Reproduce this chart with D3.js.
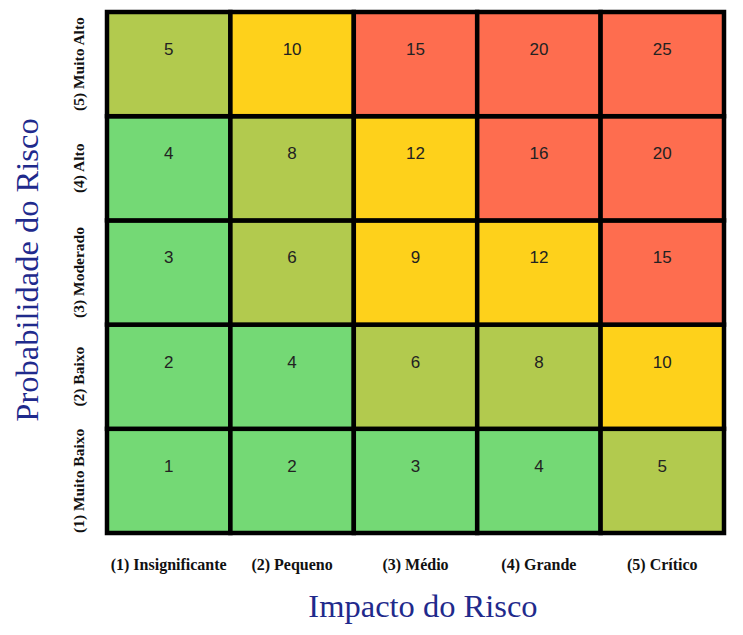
<!DOCTYPE html>
<html><head><meta charset="utf-8">
<script src="https://cdn.jsdelivr.net/npm/d3@7"></script>
<style>body{margin:0;background:#fff}</style>
</head><body>
<svg id="c" width="743" height="635"></svg>
<script>
const impactLabels = ["(1) Insignificante","(2) Pequeno","(3) Médio","(4) Grande","(5) Crítico"];
const probLabels = ["(1) Muito Baixo","(2) Baixo","(3) Moderado","(4) Alto","(5) Muito Alto"];
const impactLevels = [1,2,3,4,5];
const probLevels = [1,2,3,4,5];
// score per cell [prob][impact]
const scores = [
  [1,2,3,4,5],
  [2,4,6,8,10],
  [3,6,9,12,15],
  [4,8,12,16,20],
  [5,10,15,20,25]
];
// risk class per cell (0 low,1 moderate,2 high,3 extreme)
const classes = [
  [0,0,0,0,1],
  [0,0,1,1,2],
  [0,1,2,2,3],
  [0,1,2,3,3],
  [1,2,3,3,3]
];
const classColors = ["#74d975","#b2ca4e","#fed11b","#fe6d4f"];

const svg = d3.select("#c");
const x = d3.scaleBand().domain(impactLevels).range([107,724]).padding(0);
const y = d3.scaleBand().domain(probLevels.slice().reverse()).range([12,533]).padding(0);
const color = d3.scaleOrdinal().domain([0,1,2,3]).range(classColors);

const cells = [];
probLevels.forEach((p,i)=>impactLevels.forEach((im,j)=>cells.push({p,im,score:scores[i][j],cls:classes[i][j]})));

const g = svg.append("g");
g.selectAll("rect").data(cells).join("rect")
  .attr("x",d=>x(d.im)).attr("y",d=>y(d.p))
  .attr("width",x.bandwidth()).attr("height",y.bandwidth())
  .attr("fill",d=>color(d.cls))
  .attr("stroke","#000").attr("stroke-width",4.5);

g.selectAll("text.v").data(cells).join("text").attr("class","v")
  .attr("x",d=>x(d.im)+x.bandwidth()/2)
  .attr("y",d=>y(d.p)+y.bandwidth()*0.37)
  .attr("text-anchor","middle").attr("dominant-baseline","middle")
  .attr("font-family","Liberation Sans, Arial, sans-serif").attr("font-size",17)
  .attr("fill","#222")
  .text(d=>d.score);

// x tick labels
const xAxis = d3.axisBottom(x).tickSize(0).tickFormat((d,i)=>impactLabels[i]);
const xa = svg.append("g").attr("transform","translate(0,557)").call(xAxis);
xa.select(".domain").remove();
xa.selectAll("text").attr("font-family","Liberation Serif, Times New Roman, serif")
  .attr("font-weight","bold").attr("font-size",16).attr("fill","#111").attr("dy","0.32em").attr("y",8);

// y tick labels (rotated)
probLevels.forEach((p,i)=>{
  svg.append("text")
    .attr("transform",`translate(80,${y(p)+y.bandwidth()/2}) rotate(-90)`)
    .attr("text-anchor","middle").attr("dominant-baseline","middle")
    .attr("font-family","Liberation Serif, Times New Roman, serif")
    .attr("font-weight","bold").attr("font-size",15.5).attr("fill","#111")
    .text(probLabels[i]);
});

svg.append("text").attr("x",423).attr("y",610)
  .attr("text-anchor","middle").attr("dominant-baseline","middle")
  .attr("font-family","Liberation Serif, Times New Roman, serif")
  .attr("font-size",32.5).attr("fill","#1f2a8c").text("Impacto do Risco");

svg.append("text")
  .attr("transform","translate(31,270) rotate(-90)")
  .attr("text-anchor","middle").attr("dominant-baseline","middle")
  .attr("font-family","Liberation Serif, Times New Roman, serif")
  .attr("font-size",32.5).attr("fill","#1f2a8c").text("Probabilidade do Risco");
</script>
</body></html>
